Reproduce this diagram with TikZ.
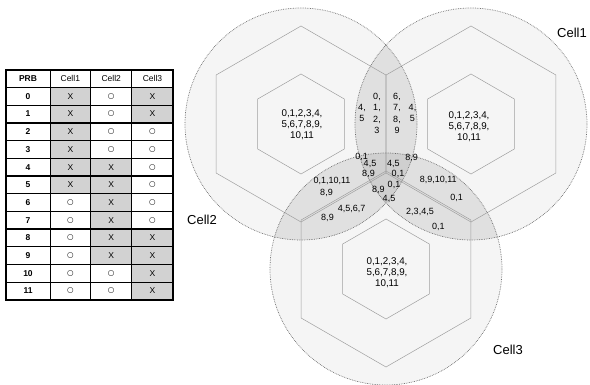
\documentclass[tikz,border=0pt]{standalone}
\usepackage{fontspec}
\setmainfont{Liberation Sans}
\newfontfamily\symfont{DejaVu Sans}
\tikzset{
  hexline/.style={draw=gray!75, line width=0.5pt},
  circline/.style={draw=gray!85!black, line width=0.7pt, densely dotted},
  circfill/.style={fill=gray!8},
  lensfill/.style={fill=gray!24},
  triplefill/.style={fill=gray!38},
  num/.style={font=\fontsize{9}{11.5}\selectfont, align=center, inner sep=0pt},
  bignum/.style={font=\fontsize{9.8}{11}\selectfont, align=center, inner sep=0pt},
  celllab/.style={font=\fontsize{13}{15}\selectfont, inner sep=0pt},
  tabtxt/.style={font=\fontsize{8.5}{10}\selectfont, inner sep=0pt},
  tabbold/.style={font=\bfseries\fontsize{8.5}{10}\selectfont, inner sep=0pt},
  tabsym/.style={font=\symfont\fontsize{7.5}{8}\selectfont, inner sep=0pt},
  xcell/.style={fill=gray!35},
}
\newcommand\tabcell[5]{%
  \if#5X
    \fill[xcell] (#2,#4) rectangle (#3,#4+17.7);
    \node[tabtxt] (#1) at ({(#2+#3)/2},#4+8.85) {X};
  \else
    \node[tabsym] (#1) at ({(#2+#3)/2},#4+8.85) {○};
  \fi}
\newcommand\hexat[2]{%
  \draw[hexline,shift={(#1)}] (30:#2) -- (90:#2) -- (150:#2) -- (210:#2) -- (270:#2) -- (330:#2) -- cycle;}
\begin{document}
\begin{tikzpicture}[x=1pt,y=-1pt]
\useasboundingbox (0,0) rectangle (590,385);
\coordinate (c1) at (471,124);
\coordinate (c2) at (301,124);
\coordinate (c3) at (386,269);
\def\rc{116}
% circle fills
\fill[circfill] (c1) circle (\rc);
\fill[circfill] (c2) circle (\rc);
\fill[circfill] (c3) circle (\rc);
% lenses
\begin{scope}\clip (c1) circle (\rc); \fill[lensfill] (c2) circle (\rc); \end{scope}
\begin{scope}\clip (c2) circle (\rc); \fill[lensfill] (c3) circle (\rc); \end{scope}
\begin{scope}\clip (c1) circle (\rc); \fill[lensfill] (c3) circle (\rc); \end{scope}
\begin{scope}\clip (c1) circle (\rc); \clip (c2) circle (\rc); \fill[triplefill] (c3) circle (\rc); \end{scope}
% hexagons
\hexat{c1}{98}
\hexat{c2}{98}
\hexat{c3}{98}
\hexat{c1}{50}
\hexat{c2}{50}
\hexat{c3}{50}
% circle outlines
\draw[circline] (c1) circle (\rc);
\draw[circline] (c2) circle (\rc);
\draw[circline] (c3) circle (\rc);
% texts
\node[bignum] (in2) at (302,125) {0,1,2,3,4,\\5,6,7,8,9,\\10,11};
\node[bignum] (in1) at (469,127) {0,1,2,3,4,\\5,6,7,8,9,\\10,11};
\node[bignum] (in3) at (387,273) {0,1,2,3,4,\\5,6,7,8,9,\\10,11};
\node[num] (u1) at (362,113) {4,\\5};
\node[num] (u2) at (377,113.5) {0,\\1,\\2,\\3};
\node[num] (u3) at (397,113.5) {6,\\7,\\8,\\9};
\node[num] (u4) at (412.5,113) {4,\\5};
\node[num] (t1) at (361.7,156.7) {0,1};
\node[num] (t2) at (370,164) {4,5};
\node[num] (t3) at (368.5,174) {8,9};
\node[num] (t4) at (393.3,164) {4,5};
\node[num] (t5) at (411.7,158.3) {8,9};
\node[num] (t6) at (398,174) {0,1};
\node[num] (t7) at (378.3,190) {8,9};
\node[num] (t8) at (394,185) {0,1};
\node[num] (t9) at (389,199.3) {4,5};
\node[num] (l1) at (332,180.5) {0,1,10,11};
\node[num] (l2) at (326.5,192.7) {8,9};
\node[num] (l3) at (351.7,209) {4,5,6,7};
\node[num] (l4) at (327.5,218.3) {8,9};
\node[num] (r1) at (438.3,180) {8,9,10,11};
\node[num] (r2) at (456.7,198.3) {0,1};
\node[num] (r3) at (420,211.7) {2,3,4,5};
\node[num] (r4) at (438.3,227.3) {0,1};
\node[celllab] (lab1) at (572,33) {Cell1};
\node[celllab] (lab2) at (202,220) {Cell2};
\node[celllab] (lab3) at (508,350) {Cell3};
% table
\def\xa{6}\def\xb{50}\def\xc{90.7}\def\xd{131.7}\def\xe{173.3}
\node[tabbold] (hP) at (28,78.7) {PRB};
\node[tabtxt] (h1) at (70.3,78.7) {Cell1};
\node[tabtxt] (h2) at (111.2,78.7) {Cell2};
\node[tabtxt] (h3) at (152.5,78.7) {Cell3};
\foreach \r/\a/\b/\c in {0/X/O/X,1/X/O/X,2/X/O/O,3/X/O/O,4/X/X/O,5/X/X/O,6/O/X/O,7/O/X/O,8/O/X/X,9/O/X/X,10/O/O/X,11/O/O/X}{
  \pgfmathsetmacro\yt{87.5+17.7*\r}
  \tabcell{a\r}{\xb}{\xc}{\yt}{\a}
  \tabcell{b\r}{\xc}{\xd}{\yt}{\b}
  \tabcell{c\r}{\xd}{\xe}{\yt}{\c}
  \node[tabbold] (p\r) at (28,\yt+8.85) {\r};
}
\foreach \r in {0,...,11}{
  \draw[line width=1.3pt] (\xa,87.5+17.7*\r) -- (\xe,87.5+17.7*\r);
}
\foreach \x in {\xb,\xc,\xd}{
  \draw[line width=0.6pt] (\x,70) -- (\x,300);
}
\draw[line width=1.7pt] (\xa,70) rectangle (\xe,300);
\end{tikzpicture}
\end{document}
